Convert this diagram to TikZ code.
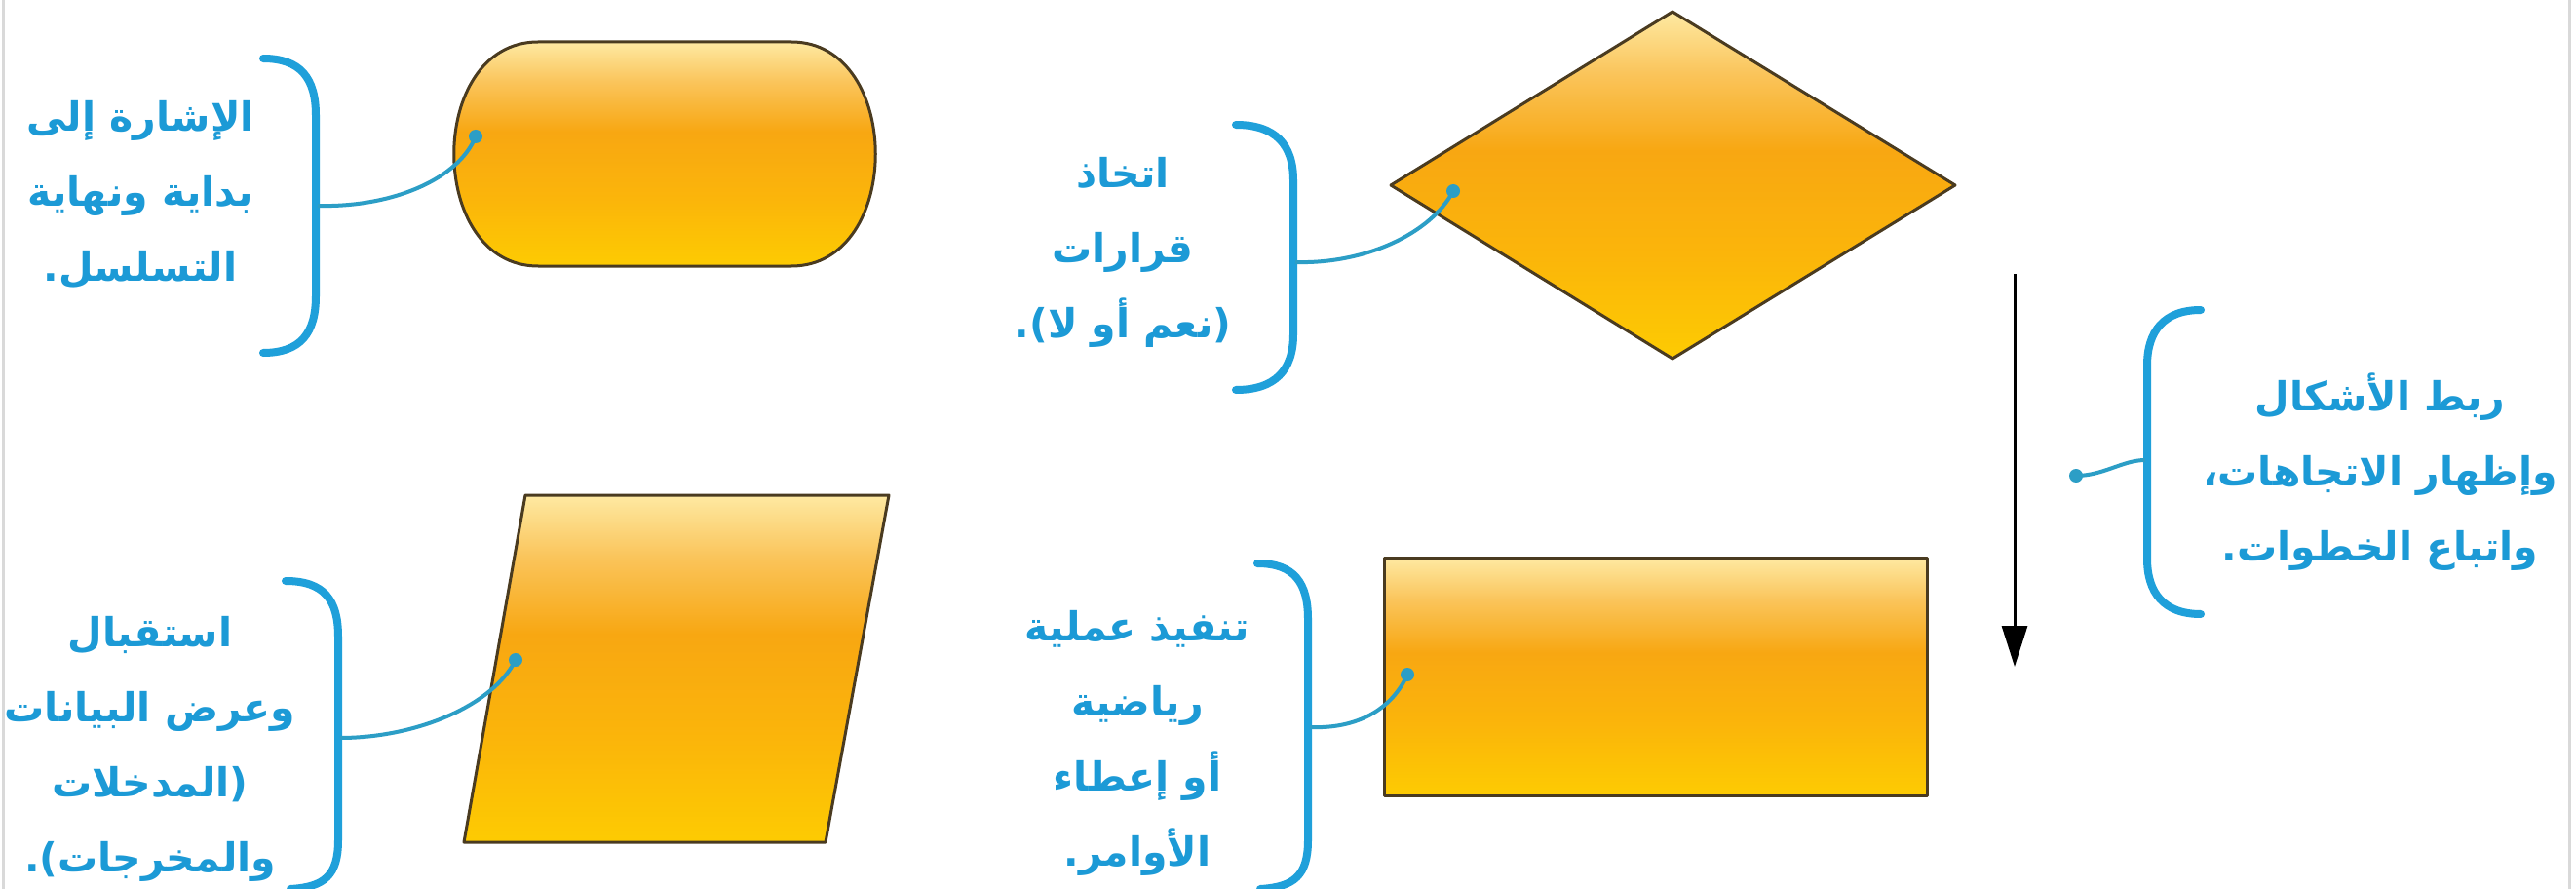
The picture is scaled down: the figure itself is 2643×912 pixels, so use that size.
\documentclass[tikz,border=0pt]{standalone}
\usepackage{fontspec}
\usetikzlibrary{arrows.meta}
\newfontfamily\arabicfont[Script=Arabic]{DejaVu Sans}
\TeXXeTstate=1
\definecolor{brblue}{HTML}{1FA0DA}
\definecolor{txtblue}{HTML}{1C9AD6}
\definecolor{lnk}{HTML}{2C9EC6}
\definecolor{edgecol}{HTML}{4A3B20}
\definecolor{gTop}{HTML}{FEE9A2}
\definecolor{gLight}{HTML}{FAC45A}
\definecolor{gMid}{HTML}{F8A712}
\definecolor{gLow}{HTML}{FBB50A}
\definecolor{gBot}{HTML}{FDCB02}
\pgfdeclareverticalshading{goldshade}{100bp}{color(0bp)=(gBot); color(25bp)=(gBot); color(40bp)=(gLow); color(55bp)=(gMid); color(66bp)=(gLight); color(75bp)=(gTop); color(100bp)=(gTop)}
\tikzset{
  shapebox/.style={draw=edgecol, line width=3pt, shade, shading=goldshade, line join=round},
  brace/.style={draw=brblue, line width=8pt, line cap=round},
  link/.style={draw=lnk, line width=4pt},
  lbl/.style={text=txtblue, align=center, inner sep=0pt, font=\arabicfont\bfseries\fontsize{41}{77}\selectfont},
}
\begin{document}
\begin{tikzpicture}[x=1pt,y=-1pt]
\useasboundingbox (0,0) rectangle (2643,912);
\fill[white] (0,0) rectangle (2643,912);
\draw[gray!30, line width=3pt] (3,0) -- (3,912);
\draw[gray!30, line width=3pt] (2636,0) -- (2636,912);

% shapes
\path[shapebox] (552,43) -- (812,43) .. controls (927,43) and (927,273) .. (812,273) -- (552,273) .. controls (437,273) and (437,43) .. (552,43) -- cycle;
\path[shapebox] (1716,12) -- (2006,190) -- (1716,368) -- (1427,190) -- cycle;
\path[shapebox] (539,508) -- (912,508) -- (847,864) -- (476,864) -- cycle;
\path[shapebox] (1420,572) rectangle (1977,816);

% flow arrow
\coordinate (arrTop) at (2067,281);
\coordinate (arrEnd) at (2067,684);
\draw[line width=3pt, -{Triangle[length=42pt,width=26pt]}] (arrTop) -- (arrEnd);

% brackets
\draw[brace] (270,60) .. controls (308,60) and (324,80) .. (324,118) -- (324,304) .. controls (324,342) and (308,362) .. (270,362);
\draw[brace] (1268,128) .. controls (1308,128) and (1327,148) .. (1327,185) -- (1327,343) .. controls (1327,380) and (1308,400) .. (1268,400);
\draw[brace] (2258,318) .. controls (2220,318) and (2203,340) .. (2203,375) -- (2203,573) .. controls (2203,608) and (2220,630) .. (2258,630);
\draw[brace] (293,596) .. controls (333,596) and (347,616) .. (347,653) -- (347,862) .. controls (347,898) and (333,910) .. (298,912);
\draw[brace] (1290,578) .. controls (1328,578) and (1342,598) .. (1342,635) -- (1342,862) .. controls (1342,898) and (1328,910) .. (1293,912);

% link coordinates
\coordinate (b1) at (326,211); \coordinate (d1) at (488,140);
\coordinate (b2) at (1329,269); \coordinate (d2) at (1491,196);
\coordinate (b3) at (2201,472); \coordinate (d3) at (2130,488);
\coordinate (b4) at (349,757); \coordinate (d4) at (529,677);
\coordinate (b5) at (1344,746); \coordinate (d5) at (1444,692);

\draw[link] (b1) .. controls (400,213) and (470,185) .. (d1);
\draw[link] (b2) .. controls (1400,271) and (1468,240) .. (d2);
\draw[link] (b3) .. controls (2178,472) and (2158,488) .. (d3);
\draw[link] (b4) .. controls (425,757) and (505,725) .. (d4);
\draw[link] (b5) .. controls (1392,748) and (1428,728) .. (d5);
\foreach \d in {d1,d2,d3,d4,d5} \fill[lnk] (\d) circle (7pt);

% labels
\node[lbl] (t1) at (144,200) {\beginR الإشارة إلى\endR\\\beginR بداية ونهاية\endR\\\beginR التسلسل.\endR};
\node[lbl] (t2) at (1152,259) {\beginR اتخاذ\endR\\\beginR قرارات\endR\\\beginR (نعم أو لا).\endR};
\node[lbl] (t3) at (2442,484) {\beginR ربط الأشكال\endR\\\beginR وإظهار الاتجاهات،\endR\\\beginR واتباع الخطوات.\endR};
\node[lbl] (t4) at (154,768) {\beginR استقبال\endR\\\beginR وعرض البيانات\endR\\\beginR (المدخلات\endR\\\beginR والمخرجات).\endR};
\node[lbl] (t5) at (1167,762) {\beginR تنفيذ عملية\endR\\\beginR رياضية\endR\\\beginR أو إعطاء\endR\\\beginR الأوامر.\endR};
\end{tikzpicture}
\end{document}
